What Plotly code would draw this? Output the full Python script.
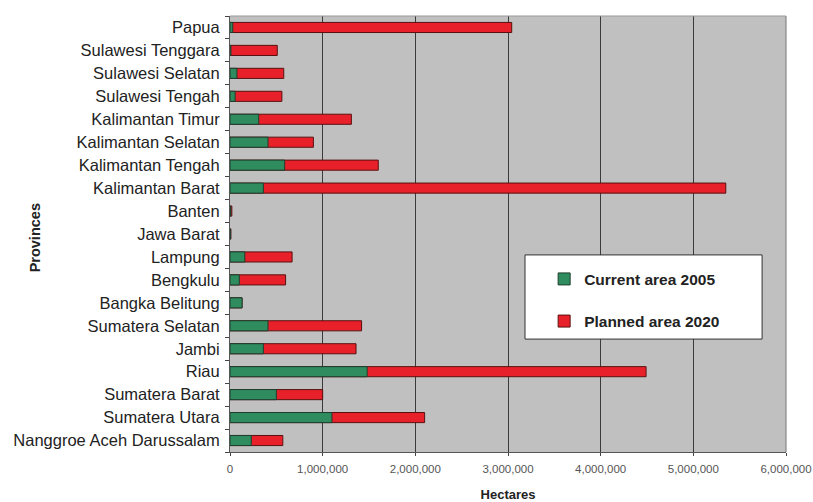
import plotly.graph_objects as go

provinces = ["Nanggroe Aceh Darussalam", "Sumatera Utara", "Sumatera Barat", "Riau", "Jambi",
             "Sumatera Selatan", "Bangka Belitung", "Bengkulu", "Lampung", "Jawa Barat", "Banten",
             "Kalimantan Barat", "Kalimantan Tengah", "Kalimantan Selatan", "Kalimantan Timur",
             "Sulawesi Tengah", "Sulawesi Selatan", "Sulawesi Tenggara", "Papua"]
current_2005 = [230000, 1100000, 500000, 1480000, 360000, 410000, 130000, 100000, 160000, 5000, 8000,
                360000, 590000, 410000, 310000, 55000, 75000, 10000, 30000]
planned_2020 = [570000, 2100000, 1000000, 4490000, 1360000, 1420000, 130000, 600000, 670000, 10000, 20000,
                5350000, 1600000, 900000, 1310000, 560000, 580000, 510000, 3040000]
x_ticks = [0, 1000000, 2000000, 3000000, 4000000, 5000000, 6000000]

FONT = "Liberation Sans, Arial, sans-serif"

fig = go.Figure()
fig.add_trace(go.Bar(y=provinces, x=planned_2020, orientation="h", name="Planned area 2020",
                     legendgroup="b", legendrank=2,
                     marker=dict(color="#e8202a", line=dict(color="#5a1010", width=1))))
fig.add_trace(go.Bar(y=provinces, x=current_2005, orientation="h", name="Current area 2005",
                     legendgroup="a", legendrank=1,
                     marker=dict(color="#2e8c5e", line=dict(color="#1f3d2e", width=1))))

fig.update_layout(
    width=813, height=502,
    barmode="overlay", bargap=0.56,
    paper_bgcolor="white", plot_bgcolor="#c0c0c0",
    margin=dict(l=230, r=27, t=16, b=50, autoexpand=False),
    font=dict(family=FONT, color="#222"),
    showlegend=True,
    legend=dict(x=0.565, y=0.435, xanchor="left", yanchor="top",
                bgcolor="rgba(0,0,0,0)", borderwidth=0,
                font=dict(size=15.5, color="#222", family=FONT, weight="bold"),
                itemwidth=30, tracegroupgap=19),
)
fig.update_xaxes(range=[0, 6000000], tickvals=x_ticks, tickformat=",d", automargin=False,
                 showgrid=True, gridcolor="#3a3a3a", gridwidth=1,
                 showline=True, linecolor="#555", mirror=False,
                 ticks="outside", ticklen=3, tickcolor="#444", ticklabelstandoff=3,
                 tickfont=dict(size=11.5, color="#555"),
                 title=dict(text="<b>Hectares</b>", font=dict(size=13, color="#222"), standoff=20),
                 zeroline=False)
fig.update_yaxes(categoryorder="array", categoryarray=provinces, automargin=False,
                 showline=True, linecolor="#555", ticks="outside", tickson="boundaries",
                 ticklen=4, tickcolor="#444", showgrid=False, ticklabelstandoff=6,
                 tickfont=dict(size=16.5, color="#222"))
fig.add_annotation(text="<b>Provinces</b>", xref="paper", yref="paper", x=-0.3507, y=0.49,
                   xanchor="center", yanchor="middle",
                   textangle=-90, showarrow=False, font=dict(size=14.5, color="#222", family=FONT))
fig.add_shape(type="line", xref="paper", yref="paper", x0=1, x1=1, y0=0, y1=1,
              line=dict(color="#777", width=1))
fig.add_shape(type="line", xref="paper", yref="paper", x0=0, x1=1, y0=1, y1=1,
              line=dict(color="#999", width=1))
fig.add_shape(type="rect", xref="paper", yref="paper", x0=0.5306, x1=0.957, y0=0.259, y1=0.452,
              fillcolor="white", line=dict(color="#333", width=1), layer="above")

fig.write_html("out.html")
